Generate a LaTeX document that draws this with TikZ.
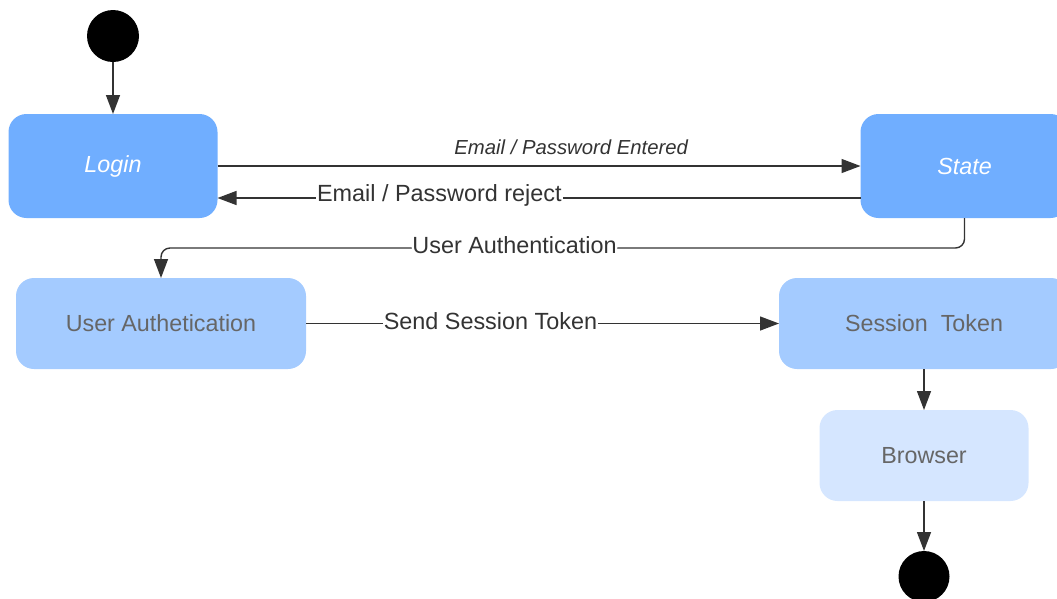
\documentclass[tikz,border=0pt]{standalone}
\usepackage{fontspec}
\setmainfont{Liberation Sans}
\usepackage{xcolor}
\usepackage{tikz}
\usetikzlibrary{positioning,arrows.meta}

\definecolor{stdark}{HTML}{70AEFF}
\definecolor{stmid}{HTML}{A4CBFF}
\definecolor{stlight}{HTML}{D5E6FF}
\definecolor{lineclr}{HTML}{333333}
\definecolor{txtgray}{HTML}{666666}

\begin{document}
\begin{tikzpicture}[
      x=1pt, y=1pt,
      >={Triangle[length=19pt,width=14pt]},
      flow/.style={draw=lineclr,line width=1.4pt,->},
      dot/.style={circle,fill=black,minimum size=52pt,inner sep=0pt,outer sep=0pt},
      stbox/.style={rounded corners=18pt,inner sep=0pt,outer sep=0pt,align=center,
        font=\fontsize{23.3}{28}\selectfont},
      darkbox/.style={stbox,fill=stdark,text=white,font=\fontsize{23.3}{28}\selectfont\itshape},
      midbox/.style={stbox,fill=stmid,text=txtgray},
      lightbox/.style={stbox,fill=stlight,text=txtgray},
      lbl/.style={fill=white,text=lineclr,inner sep=1pt,yshift=2.5pt,font=\fontsize{23.4}{28}\selectfont},
      small/.style={text=lineclr,inner sep=1pt,font=\fontsize{20.3}{24}\selectfont\itshape},
    ]
    \useasboundingbox (0,0) rectangle (1057,-598);
    % Nodes
    \node[dot] (start) at (113,-36) {};
    \node[darkbox, minimum width=209pt, minimum height=104pt, below=52pt of start] (login) {Login};
    \node[darkbox, minimum width=208pt, minimum height=104pt, right=643pt of login] (state) {State};
    \node[midbox, minimum width=290pt, minimum height=91pt] (userauth) at (161,-323.5) {User Authetication};
    \node[midbox, minimum width=290pt, minimum height=91pt, right=473pt of userauth] (session) {Session\ \ Token};
    \node[lightbox, minimum width=209pt, minimum height=91pt, below=41pt of session] (browser) {Browser};
    \node[dot, minimum size=51pt, below=50pt of browser] (final) {};

    % Arrows
    \draw[flow] (start) -- (login);
    \draw[flow] (login.east) -- node[small,pos=0.55,above=10pt]{Email / Password Entered} (state.west);
    \draw[flow] ([yshift=-32pt]state.west) -- node[lbl,pos=0.655]{Email / Password reject} ([yshift=-32pt]login.east);
    \draw[flow,rounded corners=9pt] (state.south) -- ++(0,-30) -| node[lbl,pos=0.28]{User Authentication} (userauth.north);
    \draw[flow] (userauth.east) -- node[lbl,pos=0.39]{Send Session Token} (session.west);
    \draw[flow] (session) -- (browser);
    \draw[flow] (browser) -- (final);
  \end{tikzpicture}
\end{document}
